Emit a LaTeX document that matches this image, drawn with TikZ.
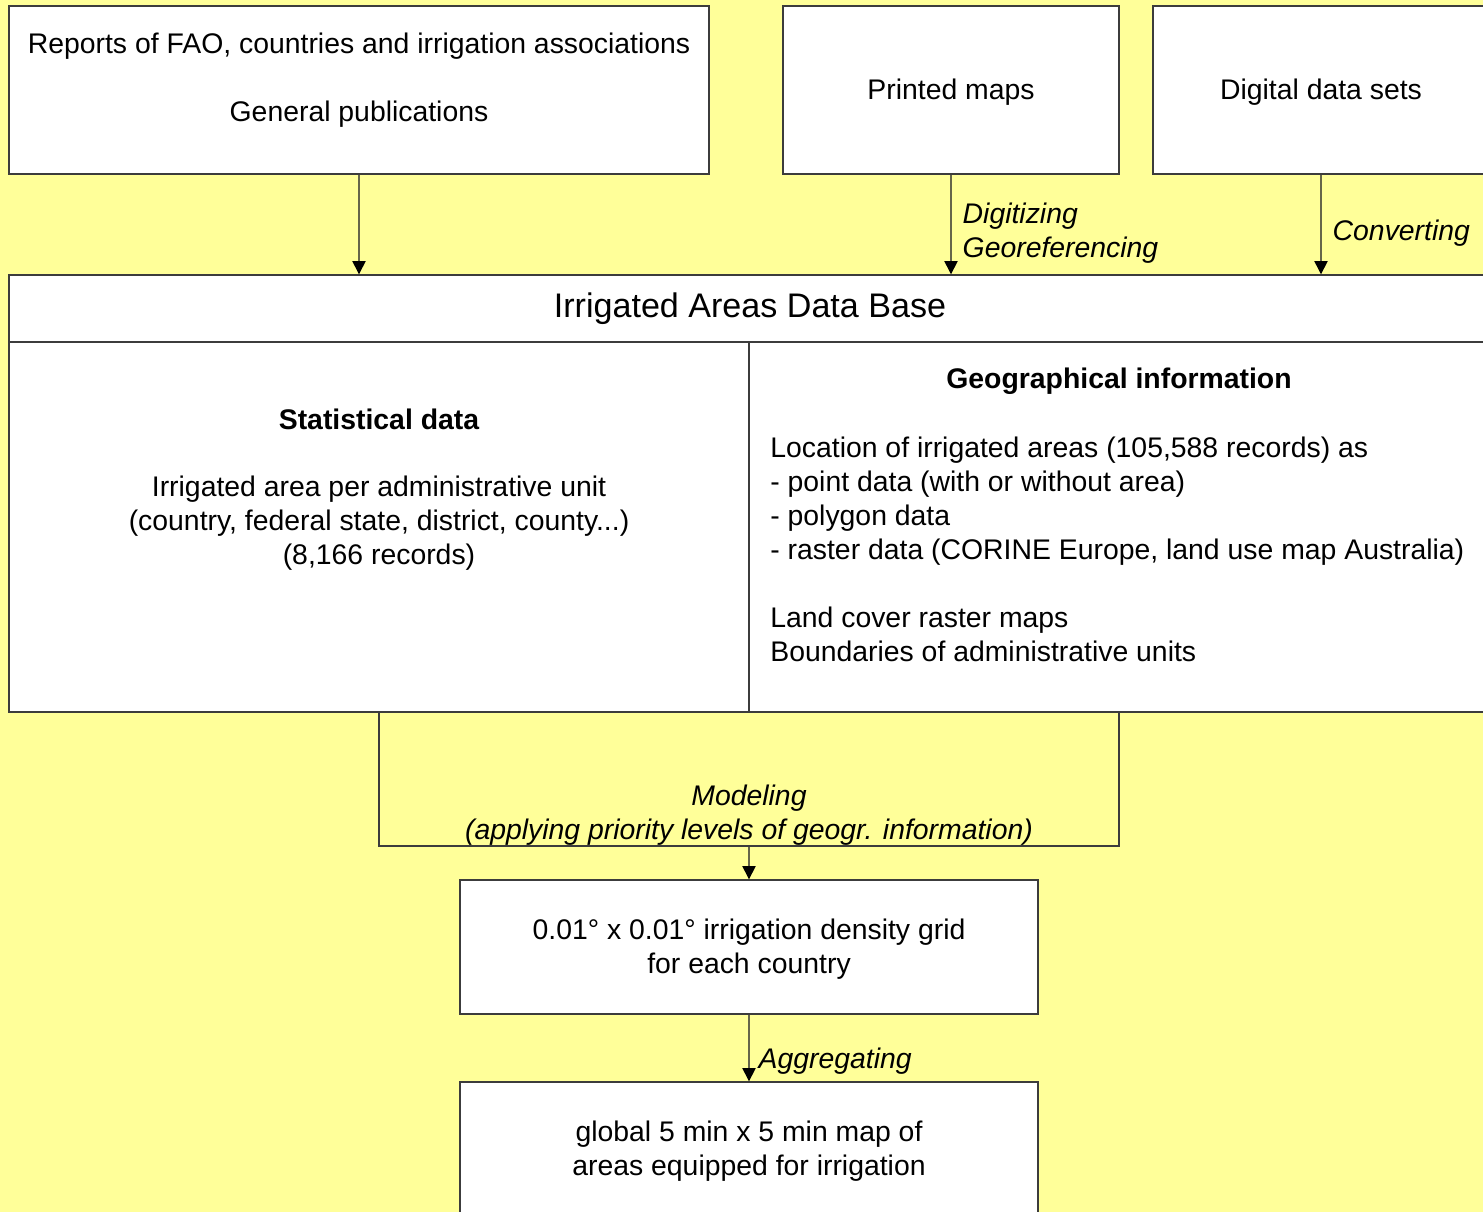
\documentclass[tikz,border=0pt]{standalone}
\usepackage{fontspec}
\setmainfont{Liberation Sans}
\usepackage{xcolor}
\usetikzlibrary{arrows.meta}
\definecolor{bgyellow}{HTML}{FFFF99}
\definecolor{boxline}{HTML}{3C3C3C}
\definecolor{arrline}{HTML}{66664A}

\tikzset{
  box/.style={draw=boxline, line width=0.8pt, fill=white, inner sep=0pt},
  frame/.style={draw=boxline, line width=0.8pt, inner sep=0pt},
  txt/.style={inner sep=0pt, align=center, font=\fontsize{16.15}{19.3}\selectfont},
  lbl/.style={inner sep=0pt, align=left, font=\fontsize{16.15}{19.3}\selectfont\itshape},
  flow/.style={draw=arrline, line width=0.8pt, -{Triangle[length=7.5pt,width=7.5pt,color=black]}}
}

\begin{document}
\begin{tikzpicture}[x=0.02cm, y=-0.02cm]
\useasboundingbox (0,0) rectangle (1483,1212);
\fill[bgyellow] (0,0) rectangle (1483,1212);
% sources
\node[box, minimum width=14cm, minimum height=3.36cm] (reports) at (359,90) {};
\node[box, minimum width=6.72cm, minimum height=3.36cm] (printed) at (951,90) {};
\node[box, minimum width=6.72cm, minimum height=3.36cm] (digital) at (1321,90) {};
\node[txt] (reportstxt) at (359,80) {Reports of FAO, countries and irrigation associations\\[19.3pt]General publications};
\node[txt] (printedtxt) at (951,92) {Printed maps};
\node[txt] (digitaltxt) at (1321,92) {Digital data sets};
% data base
\node[box, minimum width=29.6cm, minimum height=1.34cm] (dbhead) at (749,308.5) {};
\node[box, minimum width=14.8cm, minimum height=7.4cm] (stat) at (379,527) {};
\node[box, minimum width=14.8cm, minimum height=7.4cm] (geo) at (1119,527) {};
\node[txt, font=\fontsize{19.4}{22}\selectfont] (dbtxt) at (750,309) {Irrigated Areas Data Base};
\node[txt, font=\fontsize{16.15}{19.3}\selectfont\bfseries] (stattitle) at (379,419) {Statistical data};
\node[txt] (stattxt) at (379,523) {Irrigated area per administrative unit\\(country, federal state, district, county...)\\(8,166 records)};
\node[txt, font=\fontsize{16.15}{19.3}\selectfont\bfseries] (geotitle) at (1119,381) {Geographical information};
\node[txt, align=left, anchor=west] (geotxt) at (770,549.5) {Location of irrigated areas (105,588 records) as\\- point data (with or without area)\\- polygon data\\- raster data (CORINE Europe, land use map Australia)\\[19.3pt]Land cover raster maps\\Boundaries of administrative units};
% modeling and results
\node[frame, minimum width=14.8cm, minimum height=2.68cm] (model) at (749,779) {};
\node[lbl, align=center] (modeltxt) at (749,815) {Modeling\\(applying priority levels of geogr. information)};
\node[box, minimum width=11.56cm, minimum height=2.68cm] (grid) at (749,947) {};
\node[txt] (gridtxt) at (749,949) {0.01\textdegree{} x 0.01\textdegree{} irrigation density grid\\for each country};
\node[box, minimum width=11.56cm, minimum height=2.68cm] (global) at (749,1149) {};
\node[txt] (globaltxt) at (749,1151) {global 5 min x 5 min map of\\areas equipped for irrigation};
% arrows
\draw[flow] (reports.south) -- (reports.south |- dbhead.north);
\draw[flow] (printed.south) -- (printed.south |- dbhead.north) node[lbl, pos=0.59, right=0.22cm] (digitlbl) {Digitizing\\Georeferencing};
\draw[flow] (digital.south) -- (digital.south |- dbhead.north) node[lbl, pos=0.59, right=0.22cm] (convlbl) {Converting};
\draw[flow] (model.south) -- (grid.north);
\draw[flow] (grid.south) -- (global.north) node[lbl, pos=0.69, right=0.18cm] (aggrlbl) {Aggregating};
\end{tikzpicture}
\end{document}
